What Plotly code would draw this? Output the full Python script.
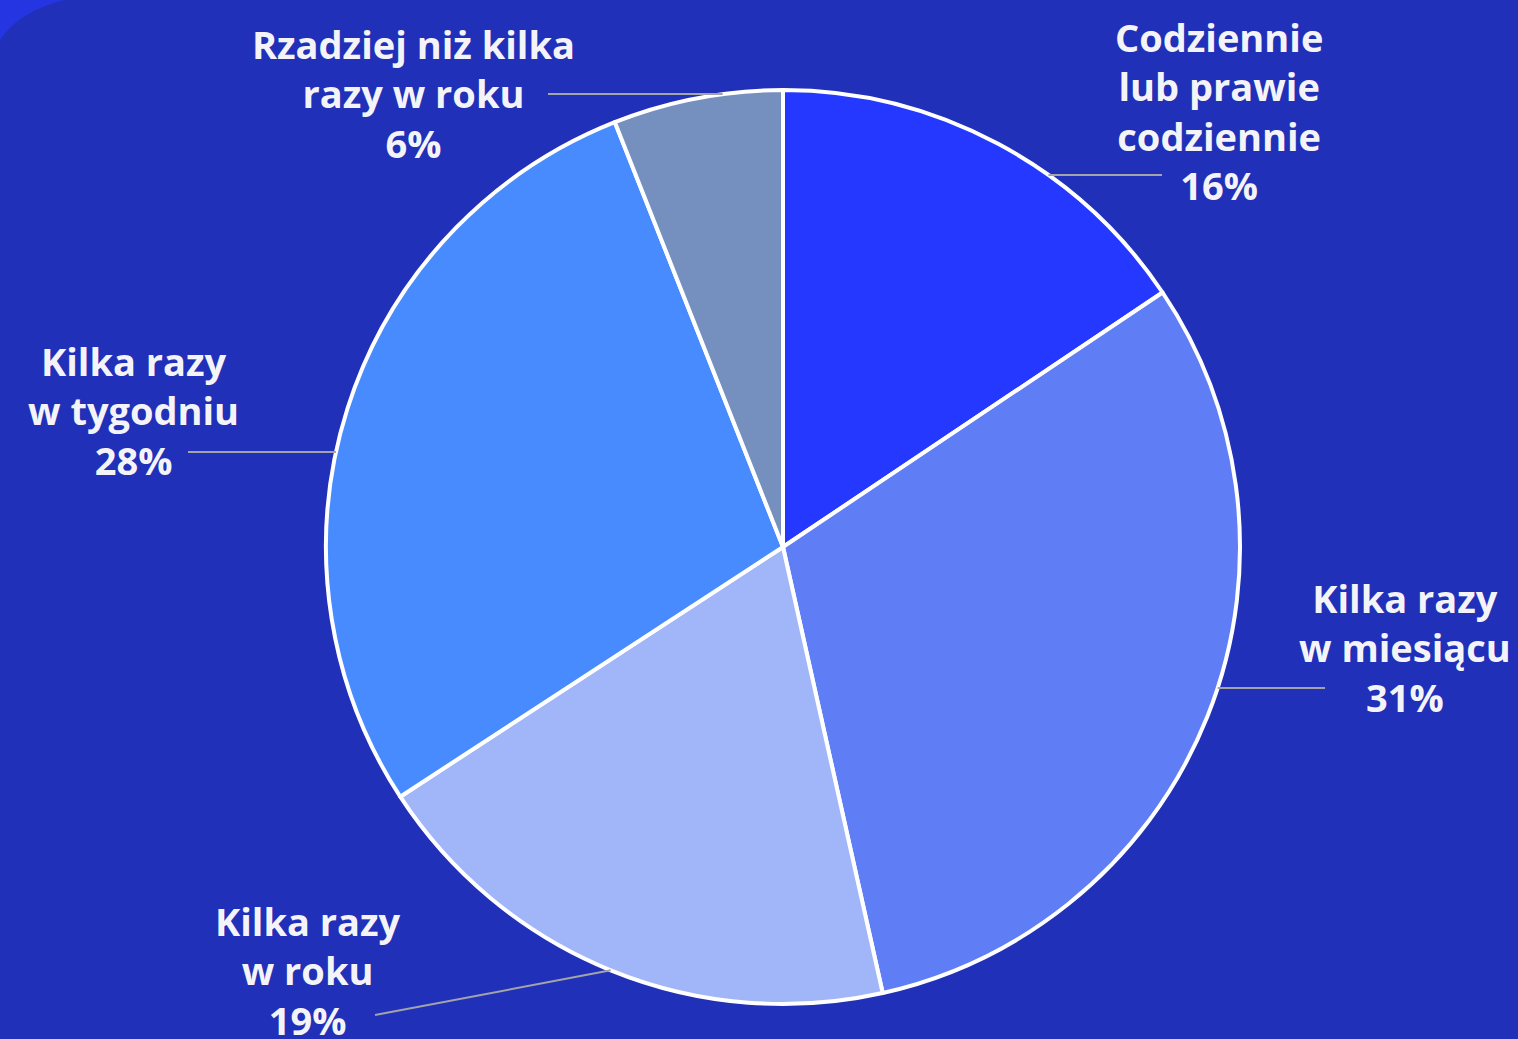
import math
import plotly.graph_objects as go

# data
labels = [
    "Codziennie lub prawie codziennie",
    "Kilka razy w miesiącu",
    "Kilka razy w roku",
    "Kilka razy w tygodniu",
    "Rzadziej niż kilka razy w roku",
]
label_text = [
    "Codziennie<br>lub prawie<br>codziennie",
    "Kilka razy<br>w miesiącu",
    "Kilka razy<br>w roku",
    "Kilka razy<br>w tygodniu",
    "Rzadziej niż kilka<br>razy w roku",
]
values = [15.6, 30.9, 19.3, 28.2, 6.0]
colors = ["#2438FF", "#5F7DF4", "#A1B6F9", "#478BFF", "#758FBE"]

W, H = 1518, 1039
BG = "#2130B8"

# pie geometry (pixels)
cx, cy, r = 783, 547, 457

# label block centres and leader start points (pixels), "h" = horizontal leader
label_pos = [(1219, 111), (1405, 647), (308, 970), (133, 410), (414, 93)]
leader_start = [(1162, 175), (1325, 688), (375, 1015), (188, 452), (548, 94)]
leader_mode = ["h", "h", "mid", "h", "h"]


def px(x):
    return x / W


def py(y):
    return 1 - y / H


fig = go.Figure()

fig.add_trace(
    go.Pie(
        labels=labels,
        values=values,
        sort=False,
        direction="clockwise",
        rotation=0,
        textinfo="none",
        hoverinfo="label+percent",
        marker=dict(colors=colors, line=dict(color="white", width=4)),
        domain=dict(x=[px(cx - r), px(cx + r)], y=[py(cy + r), py(cy - r)]),
        showlegend=False,
    )
)

total = sum(values)
cum = 0
shapes = [
    dict(
        type="path",
        xref="paper", yref="paper",
        path=f"M 0,1 L {px(64)},1 Q {px(18)},{py(12)} 0,{py(40)} Z",
        fillcolor="#2535E2", line=dict(width=0), layer="below",
    )
]
annotations = []
for i, v in enumerate(values):
    mid = (cum + v / 2) / total * 2 * math.pi
    cum += v
    sx, sy = leader_start[i]
    if leader_mode[i] == "h":
        dy = sy - cy
        dx = math.sqrt(max(r * r - dy * dy, 0))
        ex = cx + dx if sx > cx else cx - dx
        ey = sy
    else:
        ex = cx + r * math.sin(mid)
        ey = cy - r * math.cos(mid)
    shapes.append(
        dict(
            type="line", xref="paper", yref="paper",
            x0=px(sx), y0=py(sy), x1=px(ex), y1=py(ey),
            line=dict(color="#A3A3A8", width=2),
        )
    )
    lx, ly = label_pos[i]
    annotations.append(
        dict(
            x=px(lx), y=py(ly), xref="paper", yref="paper",
            xanchor="center", yanchor="middle", showarrow=False,
            text=f"{label_text[i]}<br>{round(v / total * 100)}%",
            font=dict(family="Segoe UI, Open Sans, sans-serif", size=38,
                      color="#F4F4F8", weight="bold"),
            align="center",
        )
    )

fig.update_layout(
    width=W,
    height=H,
    margin=dict(l=0, r=0, t=0, b=0),
    paper_bgcolor=BG,
    plot_bgcolor=BG,
    shapes=shapes,
    annotations=annotations,
)

fig.write_html(
    "out.html",
    config={"displayModeBar": False},
    post_script="document.body.style.margin='0';document.body.style.overflow='hidden';",
)
